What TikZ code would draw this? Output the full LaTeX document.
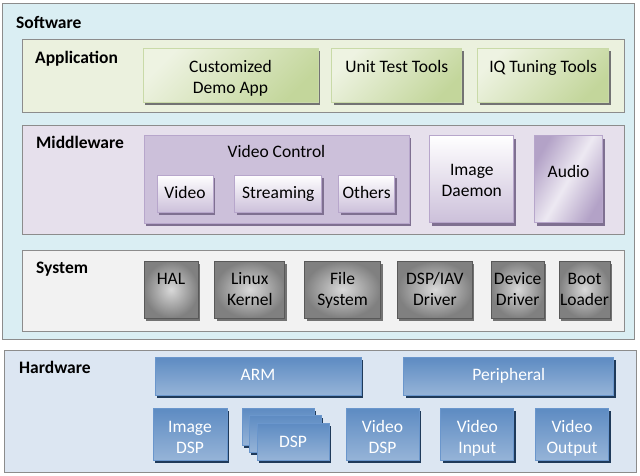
\documentclass[tikz,border=0pt]{standalone}
\usepackage{fontspec}
\setmainfont{Carlito}
\usetikzlibrary{positioning, shadows}

\definecolor{swfill}{HTML}{DAEEF3}
\definecolor{appfill}{HTML}{EBF1DE}
\definecolor{midfill}{HTML}{E6E0EC}
\definecolor{sysfill}{HTML}{F2F2F2}
\definecolor{hwfill}{HTML}{DCE6F2}
\definecolor{frame}{HTML}{8C8C8C}
\definecolor{grnlo}{HTML}{C3D69B}
\definecolor{grnhi}{HTML}{EEF3E2}
\definecolor{grnedge}{HTML}{C9DAA8}
\definecolor{purp}{HTML}{CCC0DA}
\definecolor{purpdk}{HTML}{B3A2C7}
\definecolor{purpedge}{HTML}{B7A6CB}
\definecolor{purpshadow}{HTML}{7F7091}
\definecolor{blu}{HTML}{4F81BD}
\definecolor{blulo}{HTML}{95B3D7}
\definecolor{bluedge}{HTML}{6A96CC}
\definecolor{blushadow}{HTML}{1F3A5A}

\begin{document}
\begin{tikzpicture}[
        x=1pt, y=-1pt,
        every node/.style={font=\fontsize{17.5}{21}\selectfont},
        layer/.style={draw=frame, line width=0.8pt, inner sep=0pt},
        layername/.style={anchor=base west, inner sep=0pt, font=\fontsize{17.5}{21}\selectfont\bfseries},
        shadowed/.style={drop shadow={shadow xshift=2pt, shadow yshift=-3pt, fill=#1, opacity=1}},
        appbox/.style={draw=grnedge, line width=0.8pt, top color=grnhi, bottom color=grnlo, shading angle=45, align=center, inner xsep=2pt, inner ysep=0pt, text height=24pt, text depth=30pt, shadowed=black!55},
        ctlbox/.style={draw=purpedge, line width=0.8pt, top color=white, bottom color=purp, align=center, inner xsep=2pt, inner ysep=0pt, text height=23pt, text depth=14pt, shadowed=purpshadow},
        midbox/.style={draw=purpedge, line width=0.8pt, align=center, inner xsep=2pt, inner ysep=0pt, minimum width=#1, shadowed=purpshadow},
        sysbox/.style={draw=black!65, line width=0.8pt, shading=radial, inner color=black!15, outer color=black!50, text=black, align=center, inner xsep=1pt, inner ysep=0pt, text height=44pt, text depth=13pt, minimum width=#1, shadowed=black!55},
        hwbox/.style={draw=bluedge, line width=0.8pt, top color=blu!92!white, middle color=blu!92!black, bottom color=blu!60!white, text=white, align=center, inner xsep=2pt, inner ysep=0pt, minimum width=#1, shadowed=blushadow}
    ]
        \useasboundingbox (0,0) rectangle (640,475);

        % layers
        \node (software) [layer, fill=swfill, minimum width=632pt, minimum height=336pt] at (318,171) {};
        \node (app) [layer, fill=appfill, minimum width=602pt, minimum height=73pt] at (323,75.5) {};
        \node (mid) [layer, fill=midfill, minimum width=602pt, minimum height=109pt] at (323,179.5) {};
        \node (sys) [layer, fill=sysfill, minimum width=602pt, minimum height=81pt] at (323,290.5) {};
        \node (hw) [layer, fill=hwfill, minimum width=632pt, minimum height=122pt] at (320,411) {};

        \node (sw_label) [layername] at (16,28) {Software};
        \node (app_label) [layername] at (35,63) {Application};
        \node (mid_label) [layername] at (36,148) {Middleware};
        \node (sys_label) [layername] at (36,273) {System};
        \node (hw_label) [layername] at (19,373) {Hardware};

        % Application
        \node (demo) [appbox, minimum width=175pt, text height=45pt, text depth=9pt] at (230.5,75) {Customized\\Demo App};
        \node (unittest) [appbox, minimum width=130pt, right=13pt of demo] {Unit Test Tools};
        \node (iqtune) [appbox, minimum width=131pt, right=15pt of unittest] {IQ Tuning Tools};

        % Middleware
        \node (vidctl) [midbox=265pt, fill=purp, text height=22pt, text depth=66pt] at (276.5,179) {Video Control};
        \node (daemon) [midbox=84pt, top color=white, bottom color=purp, text height=61pt, text depth=26pt, right=20pt of vidctl] {Image\\Daemon};
        \node (audio) [midbox=68pt, left color=purpdk, right color=purpdk, middle color=purp!35, shading angle=60, text height=42pt, text depth=45pt, right=20pt of daemon] {Audio};

        \node (video) [ctlbox, minimum width=56pt] at (185,193.5) {Video};
        \node (streaming) [ctlbox, minimum width=87pt, right=21pt of video] {Streaming};
        \node (others) [ctlbox, minimum width=56pt, right=16pt of streaming] {Others};

        % System
        \node (hal) [sysbox=54pt, text height=23pt, text depth=34pt] at (171,289.5) {HAL};
        \node (kernel) [sysbox=70pt, right=16pt of hal] {Linux\\Kernel};
        \node (filesys) [sysbox=76pt, right=19pt of kernel] {File\\System};
        \node (dspdrv) [sysbox=75pt, right=16pt of filesys] {DSP/IAV\\Driver};
        \node (devdrv) [sysbox=53pt, right=18pt of dspdrv] {Device\\Driver};
        \node (bootldr) [sysbox=51pt, right=14pt of devdrv] {Boot\\Loader};

        % Hardware
        \node (arm) [hwbox=206pt, text height=23pt, text depth=15pt] at (258,376) {ARM};
        \node (periph) [hwbox=210pt, text height=23pt, text depth=15pt, right=42pt of arm] {Peripheral};

        \node (imgdsp) [hwbox=74pt, text height=45pt, text depth=7pt] at (190,434) {Image\\DSP};
        \node (dsp_c) [hwbox=72pt, text height=24pt, text depth=13pt] at (278,426.5) {};
        \node (dsp_b) [hwbox=72pt, text height=24pt, text depth=13pt] at (285,433.5) {};
        \node (dsp_a) [hwbox=72pt, text height=24pt, text depth=13pt] at (293,441.5) {DSP};
        \node (viddsp) [hwbox=73pt, text height=45pt, text depth=7pt] at (382.5,434) {Video\\DSP};
        \node (vidin) [hwbox=73pt, text height=45pt, text depth=7pt, right=21pt of viddsp] {Video\\Input};
        \node (vidout) [hwbox=73pt, text height=45pt, text depth=7pt, right=21pt of vidin] {Video\\Output};

    \end{tikzpicture}
\end{document}
